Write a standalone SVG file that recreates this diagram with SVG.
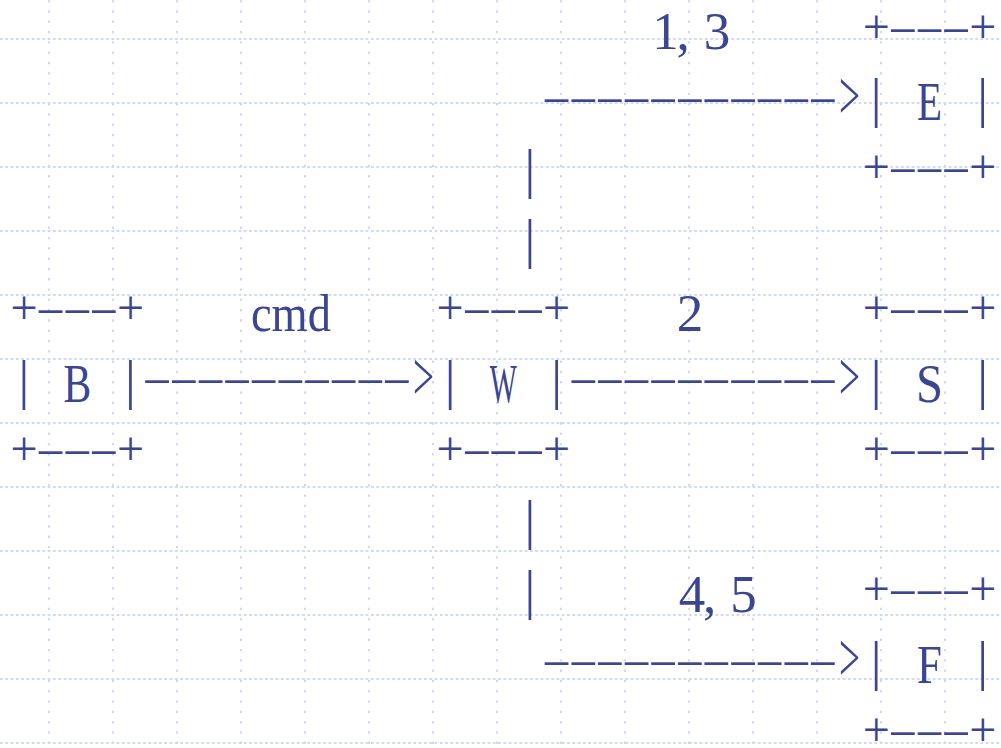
<svg xmlns="http://www.w3.org/2000/svg" width="1001" height="748" viewBox="0 0 1001 748">
<style>
.gh{stroke:#cdd9f7;stroke-width:2;stroke-dasharray:2.7 2.6;fill:none}
.gv{stroke:#cdd9f7;stroke-width:2;stroke-dasharray:2.4 7.9;fill:none}
text{font-family:"Liberation Serif","Times New Roman",serif;fill:#3c4590;text-anchor:middle}
.p{font-size:48px}
.b{font-size:54px}
.d{font-size:36px}
.g{font-size:69px}
.l{font-size:54px}
.t{font-size:53px}
</style>
<defs>
<g id="dash3"><text class="d" x="0 10.44 20.89">---</text></g>
<g id="pp"><text class="p" x="0">+</text><text class="p" x="106.52">+</text></g>
<g id="bb"><text class="b" x="0">|</text><text class="b" x="106.52">|</text></g>
</defs>
<rect width="1001" height="748" fill="#ffffff"/>
<g id="grid">
<path class="gh" d="M0 39H1001M0 103H1001M0 167H1001M0 231H1001M0 295H1001M0 359H1001M0 423H1001M0 487H1001M0 551H1001M0 615H1001M0 679H1001M0 743H1001"/>
<path class="gv" d="M49 0V748M113 0V748M177 0V748M241 0V748M305 0V748M369 0V748M433 0V748M497 0V748M561 0V748M625 0V748M689 0V748M753 0V748M817 0V748M881 0V748M945 0V748"/>
</g>
<g id="node-B">
<use href="#pp" transform="translate(24 324)"/>
<use href="#dash3" transform="translate(50.63 320) scale(2.55 1)"/>
<use href="#bb" transform="translate(24 397.5)"/>
<text class="l" transform="translate(77.26 401.5) scale(0.77 1)">B</text>
<use href="#pp" transform="translate(24 464.6)"/>
<use href="#dash3" transform="translate(50.63 460.6) scale(2.55 1)"/>
</g>
<g id="node-W">
<use href="#pp" transform="translate(450.08 324)"/>
<use href="#dash3" transform="translate(476.71 320) scale(2.55 1)"/>
<use href="#bb" transform="translate(450.08 397.5)"/>
<text class="l" transform="translate(503.34 401.5) scale(0.53 1)">W</text>
<use href="#pp" transform="translate(450.08 464.6)"/>
<use href="#dash3" transform="translate(476.71 460.6) scale(2.55 1)"/>
</g>
<g id="node-E">
<use href="#pp" transform="translate(876.16 42.8)"/>
<use href="#dash3" transform="translate(902.79 38.8) scale(2.55 1)"/>
<use href="#bb" transform="translate(876.16 116.3)"/>
<text class="l" transform="translate(929.42 120.3) scale(0.76 1)">E</text>
<use href="#pp" transform="translate(876.16 183.4)"/>
<use href="#dash3" transform="translate(902.79 179.4) scale(2.55 1)"/>
</g>
<g id="node-S">
<use href="#pp" transform="translate(876.16 324)"/>
<use href="#dash3" transform="translate(902.79 320) scale(2.55 1)"/>
<use href="#bb" transform="translate(876.16 397.5)"/>
<text class="l" transform="translate(929.42 401.5) scale(0.9 1)">S</text>
<use href="#pp" transform="translate(876.16 464.6)"/>
<use href="#dash3" transform="translate(902.79 460.6) scale(2.55 1)"/>
</g>
<g id="node-F">
<use href="#pp" transform="translate(876.16 605.2)"/>
<use href="#dash3" transform="translate(902.79 601.2) scale(2.55 1)"/>
<use href="#bb" transform="translate(876.16 678.7)"/>
<text class="l" transform="translate(929.42 682.7) scale(0.83 1)">F</text>
<use href="#pp" transform="translate(876.16 745.8)"/>
<use href="#dash3" transform="translate(902.79 741.8) scale(2.55 1)"/>
</g>
<g id="connectors">
<text class="b" x="529.97" y="186.6">|</text>
<text class="b" x="529.97" y="256.9">|</text>
<text class="b" x="529.97" y="538.1">|</text>
<text class="b" x="529.97" y="608.4">|</text>
<text class="d" transform="translate(556.6 109.1) scale(2.55 1)" x="0 10.44 20.89 31.33 41.77 52.22 62.66 73.1 83.54 93.99 104.43">-----------</text>
<text class="g" transform="translate(849.53 118.5) scale(0.54 1)">&gt;</text>
<text class="d" transform="translate(157.15 390.3) scale(2.55 1)" x="0 10.44 20.89 31.33 41.77 52.22 62.66 73.1 83.54 93.99">----------</text>
<text class="g" transform="translate(423.45 399.7) scale(0.54 1)">&gt;</text>
<text class="d" transform="translate(583.23 390.3) scale(2.55 1)" x="0 10.44 20.89 31.33 41.77 52.22 62.66 73.1 83.54 93.99">----------</text>
<text class="g" transform="translate(849.53 399.7) scale(0.54 1)">&gt;</text>
<text class="d" transform="translate(556.6 671.5) scale(2.55 1)" x="0 10.44 20.89 31.33 41.77 52.22 62.66 73.1 83.54 93.99 104.43">-----------</text>
<text class="g" transform="translate(849.53 680.9) scale(0.54 1)">&gt;</text>
<text class="t" x="665.5 683 696 717" y="49.3">1, 3</text>
<text class="t" x="291" y="330.5" textLength="80" lengthAdjust="spacingAndGlyphs">cmd</text>
<text class="t" x="690" y="330.7">2</text>
<text class="t" x="692 709.6 722 743.6" y="611.7">4, 5</text>
</g>
</svg>
